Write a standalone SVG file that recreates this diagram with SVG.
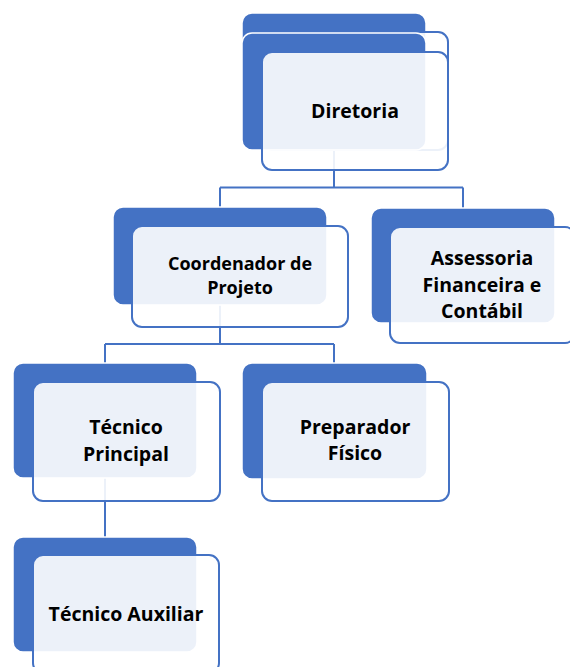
<svg xmlns="http://www.w3.org/2000/svg" width="570" height="667" viewBox="0 0 570 667">
<style>
.back{fill:#4472C4;stroke:#fff;stroke-width:1.5}
.front{fill:#fff;fill-opacity:0.9;stroke:#4472C4;stroke-width:2}
.conn{fill:none;stroke:#4472C4;stroke-width:2}
.lbl{font-family:"Open Sans","Liberation Sans",sans-serif;font-weight:bold;fill:#000;text-anchor:middle;font-size:19.5px}
.sm{font-size:18px}
</style>
<rect width="570" height="667" fill="#fff"/>
<g id="connectors" class="conn">
<path d="M334,150 V187.5 M220,187.5 H463 M220,187.5 V207 M463,187.5 V208"/>
<path d="M220,305 V344 M105,344 H334 M105,344 V363 M334,344 V363"/>
<path d="M105,478 V537"/>
</g>
<g id="diretoria">
<rect class="back" x="242" y="13" width="184" height="117" rx="10"/>
<rect class="front" x="263" y="32" width="185" height="118" rx="10"/>
<rect class="back" x="242" y="33" width="184" height="117" rx="10"/>
<rect class="front" x="262" y="52" width="186" height="118" rx="10"/>
<text class="lbl" x="355" y="118">Diretoria</text>
</g>
<g id="coordenador">
<rect class="back" x="113" y="207" width="214" height="98" rx="10"/>
<rect class="front" x="132" y="226" width="216" height="101" rx="10"/>
<text class="lbl sm" x="240" y="270">Coordenador de</text>
<text class="lbl sm" x="240" y="293.5">Projeto</text>
</g>
<g id="assessoria">
<rect class="back" x="371" y="208" width="184" height="115" rx="10"/>
<rect class="front" x="390" y="227" width="185" height="116" rx="10"/>
<text class="lbl" x="482" y="265">Assessoria</text>
<text class="lbl" x="482" y="291.5">Financeira e</text>
<text class="lbl" x="482" y="317.5">Contábil</text>
</g>
<g id="tecnico-principal">
<rect class="back" x="13" y="363" width="184" height="115" rx="10"/>
<rect class="front" x="33" y="382" width="187" height="119" rx="10"/>
<text class="lbl" x="126" y="434">Técnico</text>
<text class="lbl" x="126" y="460.5">Principal</text>
</g>
<g id="preparador-fisico">
<rect class="back" x="242" y="363" width="185" height="116" rx="10"/>
<rect class="front" x="262" y="382" width="187" height="119" rx="10"/>
<text class="lbl" x="355" y="434">Preparador</text>
<text class="lbl" x="355" y="460">Físico</text>
</g>
<g id="tecnico-auxiliar">
<rect class="back" x="13" y="537" width="184" height="115" rx="10"/>
<rect class="front" x="33" y="555" width="186" height="118" rx="10"/>
<text class="lbl" x="126" y="620.5">Técnico Auxiliar</text>
</g>
</svg>
